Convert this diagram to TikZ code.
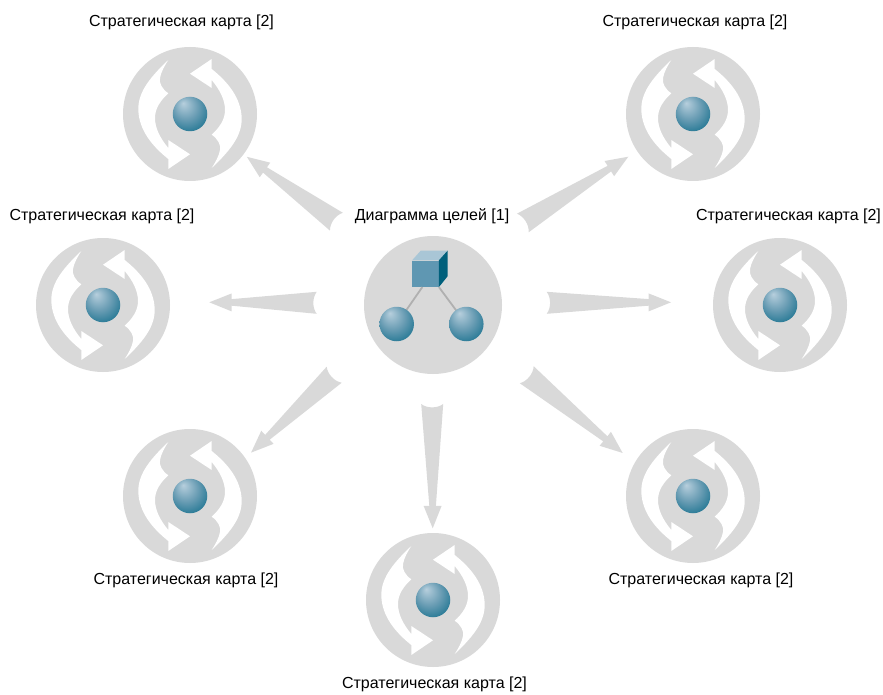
\documentclass[tikz,border=0pt]{standalone}
\usepackage{fontspec}
\setmainfont{Liberation Sans}
\usetikzlibrary{calc}

\definecolor{discgray}{HTML}{D9D9D9}
\definecolor{stemgray}{HTML}{B0B0B0}
\definecolor{cubefront}{HTML}{5F97B2}
\definecolor{cubetop}{HTML}{A9C6D6}
\definecolor{cubeside}{HTML}{00607C}
\definecolor{ballhi}{HTML}{B7CFDD}
\definecolor{ballmid}{HTML}{6A9DB4}
\definecolor{balldeep}{HTML}{1C7390}
\definecolor{balllo}{HTML}{005A72}

\pgfdeclareradialshading{sphereshade}{\pgfpoint{-10bp}{16bp}}{
	color(0bp)=(ballhi);
	color(18bp)=(ballmid);
	color(35bp)=(balldeep);
	color(47bp)=(balllo);
	color(50bp)=(balllo)
}

\tikzset{
	mapdisc/.style={circle,fill=discgray,minimum size=134pt,inner sep=0pt},
	goaldisc/.style={circle,fill=discgray,minimum size=138pt,inner sep=0pt},
	sphere/.style={circle,shading=sphereshade,minimum size=34.5pt,inner sep=0pt},
	cube/.style={rectangle,fill=cubefront,minimum size=26.4pt,inner sep=0pt},
	stem/.style={draw=stemgray,line width=1.8pt},
	caption/.style={font=\fontsize{16}{18}\selectfont,inner sep=0pt},
	mapicon/.pic={
		\foreach \ang in {0,180}{
			\fill[white,rotate=\ang] (-21.7,-54) .. controls (-43,-34) and (-52,-20) .. (-51.7,-4)
				.. controls (-51,16) and (-38,32) .. (-21.7,45)
				-- (-21.7,55) -- (0,40.3) -- (-21.7,26) -- (-21.7,34)
				.. controls (-30,24) and (-35,14) .. (-35,4)
				.. controls (-35,-6) and (-29,-14) .. (-21.7,-20.7)
				.. controls (-28,-25) and (-31,-31) .. (-30,-36)
				.. controls (-29,-42) and (-25,-49) .. (-21.7,-54) -- cycle;
		}
		\node[sphere] (-ball) at (0,0) {};
	}
}

\newcommand{\wedgearrow}[2]{
	\fill[discgray] let \p1=($(#2)-(#1)$), \n1={atan2(\y1,\x1)}, \n2={veclen(\x1,\y1)} in
		[shift={(#1)},rotate=\n1] (0,-11) .. controls (4.5,-5) and (4.5,5) .. (0,11)
		-- (\n2-22.4,3.3) -- (\n2-22.4,9) -- (\n2,0) -- (\n2-22.4,-9) -- (\n2-22.4,-3.3) -- cycle;
}

\begin{document}
\begin{tikzpicture}[x=1pt,y=-1pt]
	\useasboundingbox (0,0) rectangle (883,695);

	\node[goaldisc] (goal) at (433,305) {};
	\node[mapdisc] (mapnw) at (190,114) {};
	\node[mapdisc] (mapne) at (693,114) {};
	\node[mapdisc] (mapw) at (103,305) {};
	\node[mapdisc] (mape) at (780,305) {};
	\node[mapdisc] (mapsw) at (190,496) {};
	\node[mapdisc] (mapse) at (693,496) {};
	\node[mapdisc] (maps) at (433,600) {};

	\foreach \m in {mapnw,mapne,mapw,mape,mapsw,mapse,maps}{
		\pic (icon\m) at (\m) {mapicon};
	}

	\coordinate (ptleft) at (396.7,324);
	\coordinate (ptright) at (466.3,324);
	\node[cube] (box) at (425.5,273.7) {};
	\fill[cubetop] (box.north west) -- ++(8.7,-9.7) -- ++(26.4,0) -- (box.north east) -- cycle;
	\fill[cubeside] (box.north east) -- ++(8.7,-9.7) -- ++(0,25.7) -- (box.south east) -- cycle;
	\draw[stem] ([xshift=-3.2pt]box.south) -- (ptleft);
	\draw[stem] (box.south east) -- (ptright);
	\node[sphere] (ballleft) at (ptleft) {};
	\node[sphere] (ballright) at (ptright) {};

	\node[caption] (capgoal) at (432,216) {Диаграмма целей [1]};
	\node[caption] (capnw) at (181.5,22) {Стратегическая карта [2]};
	\node[caption] (capne) at (695,22) {Стратегическая карта [2]};
	\node[caption] (capw) at (102,216) {Стратегическая карта [2]};
	\node[caption] (cape) at (788.5,216) {Стратегическая карта [2]};
	\node[caption] (capsw) at (186,580) {Стратегическая карта [2]};
	\node[caption] (capse) at (701,580) {Стратегическая карта [2]};
	\node[caption] (caps) at (434.5,684) {Стратегическая карта [2]};

	\coordinate (tailnw) at (336.4,221.7);
	\coordinate (tipnw) at (246.7,156.7);
	\coordinate (tailne) at (522.8,223);
	\coordinate (tipne) at (628.3,156.7);
	\coordinate (tailw) at (316.7,302.8);
	\coordinate (tipw) at (209.3,302.3);
	\coordinate (taile) at (546.7,302.8);
	\coordinate (tipe) at (671,302.3);
	\coordinate (tailsw) at (334.2,374.7);
	\coordinate (tipsw) at (251,452.7);
	\coordinate (tailse) at (526.7,374.7);
	\coordinate (tipse) at (622.7,453);
	\coordinate (tails) at (432.2,404);
	\coordinate (tips) at (432.7,528.3);

	\foreach \d in {nw,ne,w,e,sw,se,s}{
		\wedgearrow{tail\d}{tip\d}
	}
\end{tikzpicture}
\end{document}
